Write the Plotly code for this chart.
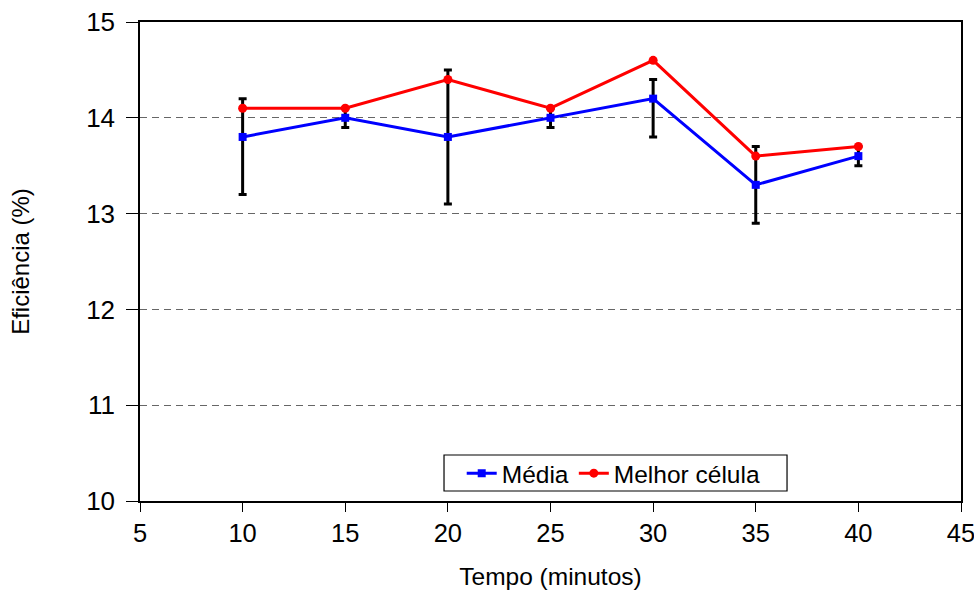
import plotly.graph_objects as go

# Tempo de processo (minutos)
tempo = [10, 15, 20, 25, 30, 35, 40]

# Eficiência média e da melhor célula (%)
media = [13.8, 14.0, 13.8, 14.0, 14.2, 13.3, 13.6]
melhor = [14.1, 14.1, 14.4, 14.1, 14.6, 13.6, 13.7]

# Limites superior / inferior das barras de erro da média
erro_sup = [0.4, 0.1, 0.7, 0.1, 0.2, 0.4, 0.1]
erro_inf = [0.6, 0.1, 0.7, 0.1, 0.4, 0.4, 0.1]

FONT = "Liberation Sans, Arial, sans-serif"

fig = go.Figure()

fig.add_trace(go.Scatter(
    x=tempo, y=media, name="Média", mode="lines+markers",
    line=dict(color="#0000ff", width=3),
    marker=dict(symbol="square", size=8, color="#0000ff"),
    error_y=dict(type="data", symmetric=False, array=erro_sup,
                 arrayminus=erro_inf, color="black", thickness=3, width=4),
))

fig.add_trace(go.Scatter(
    x=tempo, y=melhor, name="Melhor célula", mode="lines+markers",
    line=dict(color="#ff0000", width=3),
    marker=dict(symbol="circle", size=9, color="#ff0000"),
))

# Moldura da legenda, com mais folga lateral que a borda nativa
fig.add_shape(
    type="rect", xref="paper", yref="paper",
    x0=0.3703, x1=0.7881, y0=0.0209, y1=0.0960,
    line=dict(color="black", width=1.2), fillcolor="white", layer="above",
)

fig.update_layout(
    width=974, height=590,
    margin=dict(l=140, r=13, t=22, b=89),
    paper_bgcolor="white", plot_bgcolor="white",
    font=dict(family=FONT, color="black"),
    showlegend=True,
    legend=dict(
        orientation="h", x=0.577, y=0.058, xanchor="center", yanchor="middle",
        borderwidth=0, bgcolor="rgba(0,0,0,0)",
        font=dict(size=24.5, family=FONT),
        itemwidth=30, tracegroupgap=0,
    ),
    xaxis=dict(
        range=[5, 45], dtick=5, tick0=5, automargin=False,
        ticklabeloverflow="allow",
        showgrid=False, zeroline=False,
        showline=True, linecolor="black", linewidth=1.5, mirror=True,
        ticks="outside", ticklen=9, tickcolor="black",
        tickfont=dict(size=25.5),
        title=dict(text="Tempo (minutos)", font=dict(size=24.5), standoff=23),
    ),
    yaxis=dict(
        range=[10, 15], dtick=1, tick0=10, automargin=False,
        ticklabeloverflow="allow", ticklabelstandoff=6,
        showgrid=True, gridcolor="#666666", griddash="7px,5px", gridwidth=1.2,
        zeroline=False,
        showline=True, linecolor="black", linewidth=1.5, mirror=True,
        ticks="outside", ticklen=12, tickcolor="black",
        tickfont=dict(size=26),
        title=dict(text="Eficiência (%)", font=dict(size=24), standoff=50),
    ),
)

fig.write_html("out.html")
